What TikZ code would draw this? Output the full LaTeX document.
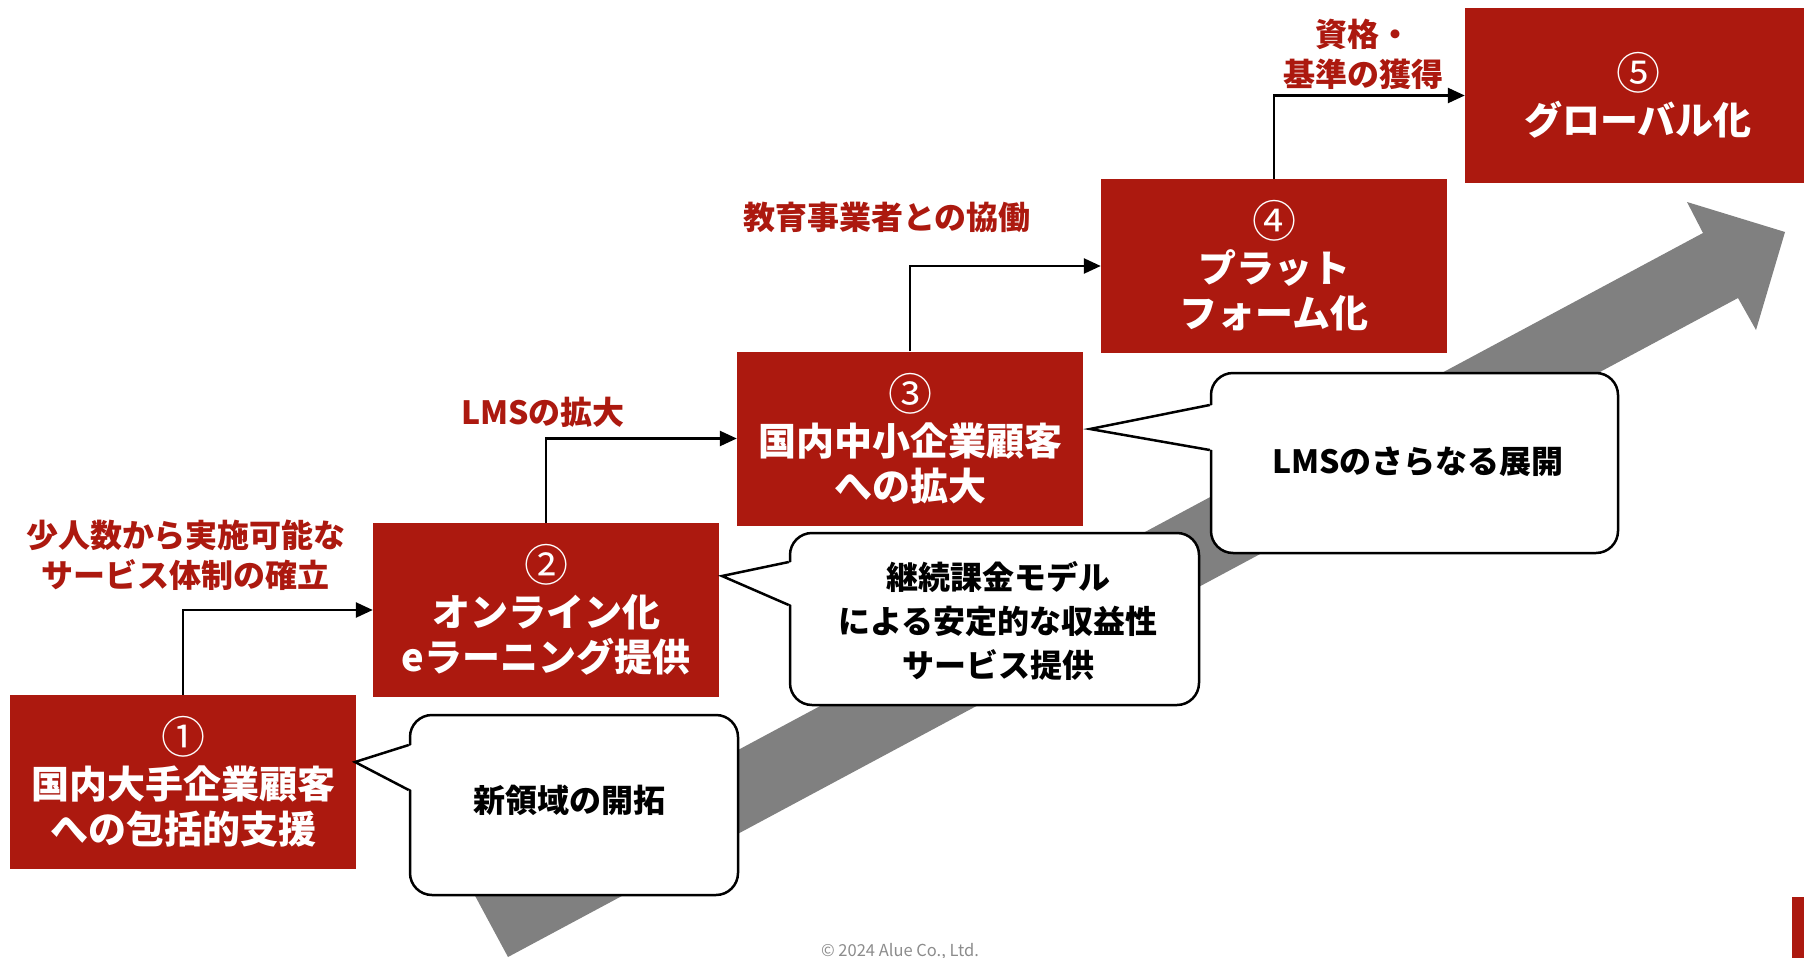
\documentclass[tikz,border=0pt]{standalone}
\usepackage{fontspec}
\setmainfont{Noto Sans CJK JP}
\usetikzlibrary{arrows.meta}
\definecolor{brick}{RGB}{172,25,15}
\definecolor{arrowgray}{RGB}{128,128,128}
\definecolor{copygray}{RGB}{140,140,140}
\newcommand{\stepnum}[1]{{\fontsize{44}{45}\selectfont\mdseries #1}}
\tikzset{
  stepbox/.style={fill=brick, draw=none, minimum width=346pt, minimum height=174pt,
    inner sep=0pt, align=center, text=white, font=\fontsize{38}{45}\selectfont\bfseries},
  conn/.style={draw=black, line width=2.5pt, -{Triangle[length=17pt,width=15pt]}},
  redlabel/.style={text=brick, align=center, inner sep=0pt, font=\fontsize{32}{40}\selectfont\bfseries},
  calltext/.style={align=center, inner sep=0pt, font=\fontsize{32}{44}\selectfont\bfseries},
  callrect/.style={draw=black, fill=white, line width=2.5pt, rounded corners=22pt},
}
\begin{document}
\begin{tikzpicture}[x=1pt,y=-1pt]
\useasboundingbox (0,0) rectangle (1804,958);
\clip (0,0) rectangle (1804,958);
\fill[white] (0,0) rectangle (1804,958);

% big gray arrow
\fill[arrowgray] (508,957) -- (1738,298) -- (1756,330) -- (1785,232) -- (1687,202) -- (1703,233) -- (473,892) -- cycle;

% step boxes
\node[stepbox] (b1) at (183,782) {\stepnum{①}\\国内大手企業顧客\\への包括的支援};
\node[stepbox] (b2) at (546,610) {\stepnum{②}\\オンライン化\\eラーニング提供};
\node[stepbox] (b3) at (910,438.5) {\stepnum{③}\\国内中小企業顧客\\への拡大};
\node[stepbox] (b4) at (1274,266) {\stepnum{④}\\プラット\\フォーム化};
\node[stepbox] (b5) at (1638,95.5) {\stepnum{⑤}\\グローバル化};

% connectors
\draw[conn] (b1.north) |- (b2.west);
\draw[conn] (b2.north) |- (b3.west);
\draw[conn] (b3.north) |- (b4.west);
\draw[conn] (b4.north) |- (b5.west);

% red labels
\node[redlabel] (l1) at (186,555) {少人数から実施可能な\\サービス体制の確立};
\node[redlabel] (l2) at (543,412) {LMSの拡大};
\node[redlabel] (l3) at (887,217) {教育事業者との協働};
\node[redlabel] (l4) at (1363,54) {資格・\\基準の獲得};

% callout 1
\node[callrect, minimum width=328pt, minimum height=180pt] (c1) at (574,805) {};
\coordinate (t1) at (355,762);
\fill[white] (t1) -- (412,745) -- (412,790) -- cycle;
\draw[line width=2.5pt, line join=miter] (c1.west |- 0,745) -- (t1) -- (c1.west |- 0,790);
\node[calltext] (ct1) at (569,800) {新領域の開拓};

% callout 2
\node[callrect, minimum width=409pt, minimum height=172pt] (c2) at (994.5,619) {};
\coordinate (t2) at (722,576);
\fill[white] (t2) -- (792,562) -- (792,605) -- cycle;
\draw[line width=2.5pt, line join=miter] (c2.west |- 0,562) -- (t2) -- (c2.west |- 0,605);
\node[calltext] (ct2) at (998,621) {継続課金モデル\\による安定的な収益性\\サービス提供};

% callout 3
\node[callrect, minimum width=407pt, minimum height=180pt] (c3) at (1414.5,463) {};
\coordinate (t3) at (1090,429);
\fill[white] (t3) -- (1213,405) -- (1213,450) -- cycle;
\draw[line width=2.5pt, line join=miter] (c3.west |- 0,405) -- (t3) -- (c3.west |- 0,450);
\node[calltext] (ct3) at (1418,462) {LMSのさらなる展開};

% corner mark and copyright
\fill[brick] (1792,897) rectangle (1810,960);
\node[text=copygray, inner sep=0pt, font=\fontsize{16.5}{18}\selectfont] (copy) at (900,951) {© 2024 Alue Co., Ltd.};
\end{tikzpicture}
\end{document}
